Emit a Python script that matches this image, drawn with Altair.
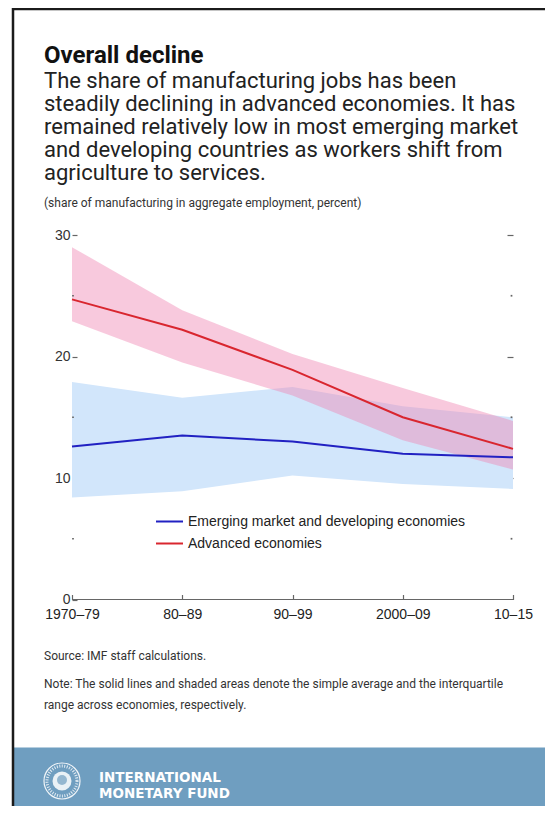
import altair as alt
import pandas as pd

# ---------------- data ----------------
periods = ["1970–79", "80–89", "90–99", "2000–09", "10–15"]
series_names = ["Emerging market and developing economies", "Advanced economies"]

adv_mean = [24.7, 22.2, 18.9, 15.0, 12.4]
adv_lo = [22.9, 19.5, 16.8, 13.1, 10.7]
adv_hi = [29.0, 23.8, 20.2, 17.4, 14.7]

eme_mean = [12.6, 13.5, 13.0, 12.0, 11.7]
eme_lo = [8.4, 8.9, 10.2, 9.5, 9.1]
eme_hi = [17.9, 16.6, 17.5, 15.9, 15.0]

major_ticks = [0, 10, 20, 30]
right_ticks = [10, 20, 30]
minor_ticks = [5, 15, 25]

title_text = "Overall decline"
body_lines = [
    "The share of manufacturing jobs has been",
    "steadily declining in advanced economies. It has",
    "remained relatively low in most emerging market",
    "and developing countries as workers shift from",
    "agriculture to services.",
]
subtitle_text = "(share of manufacturing in aggregate employment, percent)"
source_text = "Source: IMF staff calculations."
note_lines = [
    "Note: The solid lines and shaded areas denote the simple average and the interquartile",
    "range across economies, respectively.",
]
org_lines = ["INTERNATIONAL", "MONETARY FUND"]

rows = []
for i, p in enumerate(periods):
    rows.append({"period": p, "series": series_names[0], "mean": eme_mean[i], "lo": eme_lo[i], "hi": eme_hi[i]})
    rows.append({"period": p, "series": series_names[1], "mean": adv_mean[i], "lo": adv_lo[i], "hi": adv_hi[i]})
df = pd.DataFrame(rows)
minor_df = pd.DataFrame({"v": minor_ticks})
dummy = pd.DataFrame({"d": [0]})

# ---------------- style ----------------
W, H = 441, 364.5
NARROW = "Liberation Sans, Arial, sans-serif"
SANS = "Roboto, Liberation Sans, sans-serif"
BLUE = "#2121c2"
RED = "#d9262f"
BAND_BLUE = "#d2e6fb"
BAND_PINK = "#f084b1"
TICK = "#666666"

y_scale = alt.Scale(domain=[0, 30], nice=False, zero=True)

x_enc = alt.X(
    "period:N", sort=periods,
    scale=alt.Scale(type="point", padding=0),
    axis=alt.Axis(title=None, labelAngle=0, orient="bottom", offset=-5, tickSize=5,
                  tickWidth=1.2, tickColor=TICK, domain=False, grid=False,
                  labelPadding=8, labelFont=NARROW, labelFontSize=14, labelColor="#222"),
)

band_blue = alt.Chart(df).transform_filter(
    alt.datum.series == series_names[0]
).mark_area(color=BAND_BLUE, opacity=1).encode(
    x=x_enc,
    y=alt.Y("lo:Q", scale=y_scale, stack=None,
            axis=alt.Axis(title=None, values=major_ticks, orient="left", offset=-5, tickSize=5,
                          tickWidth=1.2, tickColor=TICK, domain=False, grid=False,
                          labelPadding=2, labelFont=NARROW, labelFontSize=14, labelColor="#333")),
    y2="hi:Q",
)

band_pink = alt.Chart(df).transform_filter(
    alt.datum.series == series_names[1]
).mark_area(color=BAND_PINK, opacity=0.44).encode(
    x=x_enc,
    y=alt.Y("lo:Q", scale=y_scale, stack=None,
            axis=alt.Axis(title=None, values=right_ticks, orient="right", offset=-6, tickSize=6,
                          tickWidth=1.2, tickColor=TICK, domain=False, grid=False, labels=False)),
    y2="hi:Q",
)

lines = alt.Chart(df).mark_line(strokeWidth=2).encode(
    x=x_enc,
    y=alt.Y("mean:Q", scale=y_scale, axis=None),
    stroke=alt.Stroke(
        "series:N",
        scale=alt.Scale(domain=series_names, range=[BLUE, RED]),
        legend=alt.Legend(title=None, orient="none", legendX=83, legendY=272,
                          symbolType="stroke", symbolSize=729, symbolStrokeWidth=2,
                          labelFont=NARROW, labelFontSize=14, labelColor="#222", labelLimit=0,
                          labelOffset=4, rowPadding=-2, padding=0),
    ),
)

baseline = alt.Chart(dummy).mark_rule(color=TICK, strokeWidth=1.2).encode(
    y=alt.Y(datum=0, type="quantitative", scale=y_scale, axis=None)
)

minor_left = alt.Chart(minor_df).mark_square(size=3, color=TICK, opacity=1).encode(
    x=alt.value(1), y=alt.Y("v:Q", scale=y_scale, axis=None)
)
minor_right = alt.Chart(minor_df).mark_square(size=3, color=TICK, opacity=1).encode(
    x=alt.value(W - 1.5), y=alt.Y("v:Q", scale=y_scale, axis=None)
)


def txt(s, x, y, size, weight="normal", color="#222", font=SANS, baseline="alphabetic", lh=None):
    kw = dict(align="left", baseline=baseline, font=font, fontSize=size, fontWeight=weight, color=color)
    if lh is not None:
        kw["lineHeight"] = lh
    return alt.Chart(dummy).mark_text(**kw).encode(
        x=alt.value(x), y=alt.value(y), text=alt.value(s)
    )


# footer band (runs past the right/bottom edge) and picture frame (left and top sides)
footer_band = alt.Chart(dummy).mark_rect(color="#6f9ec0").encode(
    x=alt.value(-58), x2=alt.value(500), y=alt.value(512.6), y2=alt.value(600)
)
frame_left = alt.Chart(dummy).mark_rule(color="#1b1b1b", strokeWidth=2.5).encode(
    x=alt.value(-59), y=alt.value(-227), y2=alt.value(600)
)
frame_top = alt.Chart(dummy).mark_rule(color="#1b1b1b", strokeWidth=2.5).encode(
    x=alt.value(-60), x2=alt.value(520), y=alt.value(-226)
)

# seal approximation
SX, SY = -10, 546
seal_outer = alt.Chart(dummy).mark_point(shape="circle", filled=False, stroke="white",
                                         strokeWidth=1.2, size=1296, opacity=0.9).encode(
    x=alt.value(SX), y=alt.value(SY))
seal_ring = alt.Chart(dummy).mark_point(shape="circle", filled=False, stroke="white",
                                        strokeWidth=3, strokeDash=[1, 1.5], size=900, opacity=0.8).encode(
    x=alt.value(SX), y=alt.value(SY))
seal_inner = alt.Chart(dummy).mark_point(shape="circle", filled=True, color="white",
                                         size=361, opacity=0.85).encode(
    x=alt.value(SX), y=alt.value(SY))
seal_globe = alt.Chart(dummy).mark_point(shape="circle", filled=True, color="#6f9ec0",
                                         size=100, opacity=0.7).encode(
    x=alt.value(SX), y=alt.value(SY - 1))

layers = [
    band_blue, band_pink, lines, baseline, minor_left, minor_right,
    txt(title_text, -28, -172, 24, weight="bold", color="#111"),
    txt(body_lines, -28, -147, 22, color="#222", lh=23),
    txt(subtitle_text, -28, -28, 12, color="#333"),
    txt(source_text, -28, 425, 12, color="#333"),
    txt(note_lines, -28, 453, 12, color="#333", lh=21),
    footer_band, frame_left, frame_top,
    seal_outer, seal_ring, seal_inner, seal_globe,
    txt(org_lines[0], 27, 546.5, 13.5, weight="bold", color="white", font="DejaVu Sans, sans-serif"),
    txt(org_lines[1], 27, 563, 13.5, weight="bold", color="white", font="DejaVu Sans, sans-serif"),
]

chart = alt.layer(*layers).resolve_axis(y="independent").properties(
    width=W, height=H,
    autosize=alt.AutoSizeParams(type="none"),
    padding={"left": 64, "top": 227, "right": 32, "bottom": 206.5},
).configure_view(stroke=None)

chart.save("out.html", embed_options={"renderer": "svg", "actions": False})
